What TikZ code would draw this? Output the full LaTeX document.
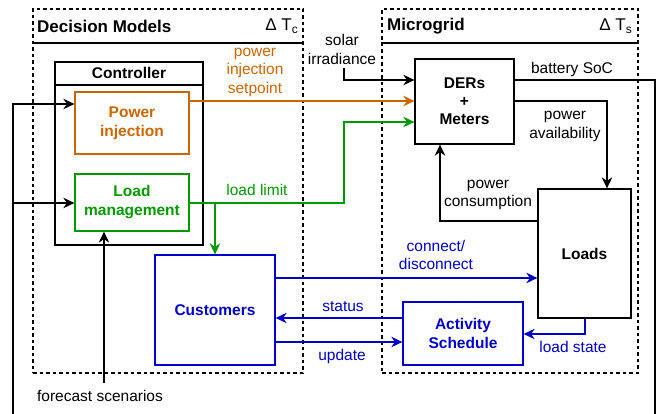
\documentclass[tikz,border=0pt]{standalone}
\usepackage{fontspec}
\setmainfont{Liberation Sans}
\usetikzlibrary{arrows.meta}
\definecolor{orng}{HTML}{CC6600}
\definecolor{grn}{HTML}{009900}
\definecolor{blu}{HTML}{0000CC}
\newcommand{\subtxt}[1]{\raisebox{-3.5pt}{\fontsize{12}{12}\selectfont #1}}
\begin{document}
\begin{tikzpicture}[x=1pt,y=-1pt,
  frame/.style={draw, line width=1.3pt, dash pattern=on 3.5pt off 3pt, inner sep=0pt},
  box/.style={draw, line width=1.3pt, inner sep=0pt, align=center,
    font=\fontsize{15.5}{19}\selectfont\bfseries},
  title/.style={inner sep=0pt, font=\fontsize{17}{20}\selectfont\bfseries},
  lbl/.style={inner sep=0pt, align=center, font=\fontsize{15.5}{18.5}\selectfont},
  conn/.style={line width=1.3pt, -{Stealth[length=11pt,width=10.5pt,inset=3.5pt]}}]
\path[use as bounding box] (0,0) rectangle (657,414);
\clip (0,0) rectangle (657,414);

% helper levels
\coordinate (h43) at (0,43);
\coordinate (h85) at (0,85);
\coordinate (y80) at (0,80);
\coordinate (y101) at (0,101);
\coordinate (y104) at (0,104);
\coordinate (y122) at (0,122);
\coordinate (y203) at (0,203);
\coordinate (y221) at (0,221);
\coordinate (y278) at (0,278);
\coordinate (y318) at (0,318);
\coordinate (y334) at (0,334);
\coordinate (y342) at (0,342);
\coordinate (xpa) at (607,0);
\coordinate (xpc) at (440,0);
\coordinate (xls) at (585,0);

% containers
\node[frame, minimum width=270pt, minimum height=364pt] (dm) at (168,191) {};
\draw[line width=1.3pt] (dm.west |- h43) -- (dm.east |- h43);
\node[title, anchor=west] (dmt) at (37,26) {Decision Models};
\node[title, anchor=east, font=\fontsize{17}{20}\selectfont] (dmd) at (298,26) {Δ T\subtxt{c}};

\node[frame, minimum width=256pt, minimum height=364pt] (mg) at (510,191) {};
\draw[line width=1.3pt] (mg.west |- h43) -- (mg.east |- h43);
\node[title, anchor=west] (mgt) at (387,26) {Microgrid};
\node[title, anchor=east, font=\fontsize{17}{20}\selectfont] (mgd) at (632,26) {Δ T\subtxt{s}};

% controller
\node[draw, line width=1.3pt, minimum width=148pt, minimum height=183pt] (ctrl) at (129,153.5) {};
\draw[line width=1.3pt] (ctrl.west |- h85) -- (ctrl.east |- h85);
\node[box, draw=none] (ctrlt) at (129,73) {Controller};

\node[box, draw=orng, text=orng, minimum width=114pt, minimum height=62pt] (pinj) at (132,123) {Power\\injection};
\node[box, draw=grn, text=grn, minimum width=114pt, minimum height=57pt] (lmgmt) at (132,202.5) {Load\\management};
\node[box, draw=blu, text=blu, minimum width=120pt, minimum height=110pt] (cust) at (215,310) {Customers};

% microgrid blocks
\node[box, minimum width=99pt, minimum height=85pt, font=\fontsize{15.5}{18}\selectfont\bfseries] (der) at (464.5,101.5) {DERs\\+\\Meters};
\node[box, minimum width=93pt, minimum height=129pt] (loads) at (584.5,253.5) {Loads};
\node[box, draw=blu, text=blu, minimum width=120pt, minimum height=63pt] (act) at (463,333.5) {Activity\\Schedule};

% connectors
\draw[conn] (der.east |- y80) -- (655,80) -- (655,440) -- (13,440) -- (13,104) -- (pinj.west |- y104);
\coordinate (fb) at (13,203);
\draw[conn] (fb) -- (lmgmt.west |- fb);

\coordinate (sol) at (344,68);
\draw[conn] (sol) |- (der.west |- y80);

\draw[conn, orng] (pinj.east |- y101) -- (der.west |- y101);

\draw[conn, grn] (lmgmt.east |- y203) -- (344,203) -- (344,122) -- (der.west |- y122);
\draw[conn, grn] (cust.north |- y203) -- (cust.north);

\draw[conn] (der.east |- y101) -| (xpa |- loads.north);
\draw[conn] (loads.west |- y221) -| (der.south -| xpc);

\draw[conn, blu] (cust.east |- y278) -- (loads.west |- y278);
\draw[conn, blu] (act.west |- y318) -- (cust.east |- y318);
\draw[conn, blu] (cust.east |- y342) -- (act.west |- y342);
\draw[conn, blu] (loads.south -| xls) |- (act.east |- y334);

\coordinate (fc) at (104,383);
\draw[conn] (fc) -- (lmgmt.south -| fc);

% labels
\node[lbl] (lsol) at (342,49.5) {solar\\irradiance};
\node[lbl, text=orng] (lset) at (255,72) {power\\injection\\setpoint};
\node[lbl, text=grn] (llim) at (257,190) {load limit};
\node[lbl] (lsoc) at (572,69) {battery SoC};
\node[lbl] (lpa) at (565,126.5) {power\\availability};
\node[lbl] (lpc) at (488,195) {power\\consumption};
\node[lbl, text=blu] (lcd) at (436,255) {connect/\\disconnect};
\node[lbl, text=blu] (lst) at (343,307) {status};
\node[lbl, text=blu] (lup) at (342,356) {update};
\node[lbl, text=blu] (lls) at (573,347) {load state};
\node[lbl] (lfc) at (100,396) {forecast scenarios};
\end{tikzpicture}
\end{document}
